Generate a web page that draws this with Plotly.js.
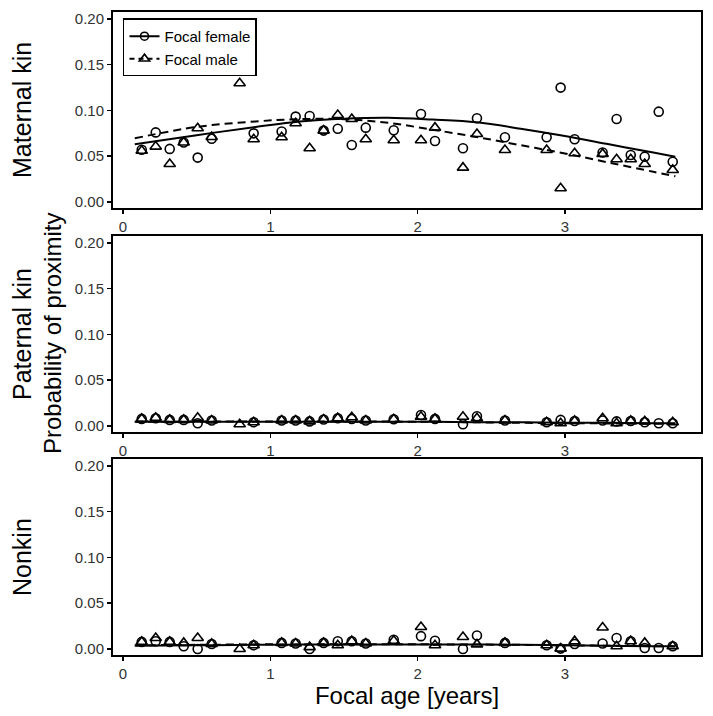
<!DOCTYPE html>
<html>
<head>
<meta charset="utf-8">
<script src="https://cdn.plot.ly/plotly-3.0.1.min.js"></script>
<style>html,body{margin:0;padding:0;background:#fff;}#chart{width:713px;height:716px;}</style>
</head>
<body>
<div id="chart"></div>
<script>
// Focal age (years) of each observation bin
const ages = [0.127, 0.222, 0.317, 0.412, 0.507, 0.602, 0.792, 0.887, 1.077, 1.172, 1.267, 1.362, 1.458, 1.553, 1.648, 1.838, 2.023, 2.118, 2.308, 2.403, 2.593, 2.876, 2.971, 3.066, 3.256, 3.351, 3.447, 3.542, 3.637, 3.732];

// Maternal kin
const matFemale = [0.057, 0.076, 0.058, 0.065, 0.0485, 0.069, null, 0.075, 0.077, 0.0933, 0.094, 0.078, 0.080, 0.0623, 0.0812, 0.0783, 0.0962, 0.0667, 0.0587, 0.0915, 0.0707, 0.0707, 0.125, 0.0685, 0.054, 0.0907, 0.0514, 0.0495, 0.0987, 0.044];
const matMale   = [0.056, 0.0605, 0.0415, 0.065, 0.0805, 0.071, 0.1297, 0.0685, 0.0707, 0.086, 0.0587, 0.078, 0.0951, 0.0907, 0.0685, 0.0674, 0.0674, 0.0812, 0.0375, 0.0743, 0.0568, 0.0568, 0.015, 0.0532, 0.0525, 0.0467, 0.0467, 0.0415, null, 0.035];

// Paternal kin
const patFemale = [0.0077, 0.0085, 0.0066, 0.0066, 0.003, 0.006, null, 0.004, 0.006, 0.006, 0.005, 0.007, 0.0085, 0.0077, 0.006, 0.0073, 0.012, 0.0077, 0.0018, 0.0106, 0.006, 0.004, 0.0066, 0.0055, 0.006, 0.005, 0.0055, 0.004, 0.003, 0.003];
const patMale   = [0.0077, 0.009, 0.0066, 0.0066, 0.009, 0.006, 0.0018, 0.004, 0.006, 0.006, 0.005, 0.007, 0.0085, 0.0095, 0.006, 0.0073, 0.010, 0.0077, 0.010, 0.0084, 0.006, 0.004, 0.003, 0.0055, 0.0084, 0.003, 0.0055, 0.005, null, 0.004];

// Nonkin
const nonFemale = [0.0077, 0.0085, 0.0077, 0.003, 0.000, 0.0055, null, 0.004, 0.0066, 0.006, 0.000, 0.0066, 0.0085, 0.0085, 0.006, 0.010, 0.014, 0.009, 0.000, 0.0147, 0.0066, 0.004, 0.0004, 0.0055, 0.006, 0.012, 0.0085, 0.001, 0.001, 0.003];
const nonMale   = [0.0077, 0.012, 0.0077, 0.0066, 0.012, 0.0055, 0.000, 0.004, 0.0066, 0.006, 0.002, 0.0066, 0.004, 0.0085, 0.006, 0.009, 0.024, 0.004, 0.013, 0.005, 0.0066, 0.004, 0.0004, 0.0085, 0.0234, 0.003, 0.0085, 0.0066, null, 0.003];

// Fitted curves
const fitAges = [0.08, 0.5, 0.9, 1.2, 1.5, 1.8, 2.1, 2.4, 2.7, 3.0, 3.3, 3.6, 3.75];
const matFemaleFit = [0.063, 0.073, 0.082, 0.088, 0.091, 0.092, 0.090, 0.087, 0.080, 0.072, 0.063, 0.054, 0.0495];
const matMaleFit   = [0.0696, 0.082, 0.088, 0.0905, 0.0905, 0.0865, 0.079, 0.071, 0.062, 0.053, 0.043, 0.033, 0.028];
const patFemaleFit = [0.0045, 0.0045, 0.0045, 0.0045, 0.0045, 0.0045, 0.0045, 0.004, 0.004, 0.0035, 0.0035, 0.003, 0.003];
const patMaleFit   = [0.0045, 0.0048, 0.005, 0.005, 0.005, 0.0048, 0.0045, 0.004, 0.0035, 0.003, 0.0028, 0.0025, 0.0025];
const nonFemaleFit = [0.0035, 0.004, 0.0045, 0.0048, 0.005, 0.005, 0.005, 0.0048, 0.0045, 0.004, 0.0035, 0.003, 0.003];
const nonMaleFit   = [0.004, 0.0045, 0.005, 0.005, 0.0052, 0.0052, 0.005, 0.0048, 0.0045, 0.004, 0.0035, 0.003, 0.0028];

const panelLabels = ["Maternal kin", "Paternal kin", "Nonkin"];
const seriesNames = ["Focal female", "Focal male"];
const yTicks = [0, 0.05, 0.10, 0.15, 0.20];
const xTicks = [0, 1, 2, 3];

const FONT = "Liberation Sans, Arial, Helvetica, sans-serif";
const circ = {symbol: "circle-open", size: 9, color: "#000", line: {width: 1.6, color: "#000"}};
const tri  = {symbol: "triangle-up-open", size: 10, color: "#000", line: {width: 1.6, color: "#000"}};
const solid = {color: "#000", width: 2, shape: "spline"};
const dashed = {color: "#000", width: 2, dash: "8px,5px", shape: "spline"};

const panels = [
  {f: matFemale, m: matMale, ff: matFemaleFit, mf: matMaleFit},
  {f: patFemale, m: patMale, ff: patFemaleFit, mf: patMaleFit},
  {f: nonFemale, m: nonMale, ff: nonFemaleFit, mf: nonMaleFit}
];

const traces = [];
panels.forEach((p, i) => {
  const xa = i === 0 ? "x" : "x" + (i + 1);
  const ya = i === 0 ? "y" : "y" + (i + 1);
  traces.push({x: fitAges, y: p.ff, xaxis: xa, yaxis: ya, mode: "lines", line: solid, showlegend: false, hoverinfo: "skip"});
  traces.push({x: fitAges, y: p.mf, xaxis: xa, yaxis: ya, mode: "lines", line: dashed, showlegend: false, hoverinfo: "skip"});
  traces.push({x: ages, y: p.f, xaxis: xa, yaxis: ya, mode: "markers", marker: circ, showlegend: false});
  traces.push({x: ages, y: p.m, xaxis: xa, yaxis: ya, mode: "markers", marker: tri, showlegend: false});
});
// legend entries
traces.push({x: [null], y: [null], mode: "lines+markers", name: seriesNames[0], line: {color: "#000", width: 2}, marker: {symbol: "circle-open", size: 8, color: "#000", line: {width: 1.6, color: "#000"}}});
traces.push({x: [null], y: [null], mode: "lines+markers", name: seriesNames[1], line: {color: "#000", width: 2, dash: "5px,4px"}, marker: {symbol: "triangle-up-open", size: 9, color: "#000", line: {width: 1.6, color: "#000"}}});

const H = 643;
const doms = [[(655 - 208) / H, 1], [(655 - 432) / H, (655 - 236) / H], [0, (655 - 459) / H]];

function yax(d, anchor) {
  return {domain: d, anchor: anchor, range: [-0.0066, 0.2076], tickvals: yTicks, ticktext: yTicks.map(v => v.toFixed(2)),
    showline: true, mirror: true, linewidth: 2, linecolor: "#000", ticks: "outside", ticklen: 4, tickwidth: 1.5, tickcolor: "#000",
    showgrid: false, zeroline: false, tickfont: {family: FONT, size: 15, color: "#333"}, fixedrange: true};
}
function xax(anchor) {
  return {domain: [0, 1], anchor: anchor, range: [-0.068, 3.924], tickvals: xTicks, ticktext: xTicks.map(String),
    showline: true, mirror: true, linewidth: 2, linecolor: "#000", ticks: "outside", ticklen: 4, tickwidth: 1.5, tickcolor: "#000",
    showgrid: false, zeroline: false, tickfont: {family: FONT, size: 15, color: "#333"}, fixedrange: true};
}

const layout = {
  width: 713, height: 716,
  margin: {l: 113, r: 12, t: 12, b: 61},
  paper_bgcolor: "#fff", plot_bgcolor: "#fff",
  font: {family: FONT, color: "#000"},
  xaxis: xax("y"), yaxis: yax(doms[0], "x"),
  xaxis2: xax("y2"), yaxis2: yax(doms[1], "x2"),
  xaxis3: Object.assign(xax("y3"), {title: {text: "Focal age [years]", font: {family: FONT, size: 24, color: "#000"}, standoff: 4}}),
  yaxis3: yax(doms[2], "x3"),
  showlegend: true,
  legend: {x: 0.017, y: 0.99, xanchor: "left", yanchor: "top", bgcolor: "#fff", bordercolor: "#000", borderwidth: 1.5,
    font: {family: FONT, size: 15, color: "#000"}, tracegroupgap: 0},
  annotations: [
    {text: panelLabels[0], xref: "paper", yref: "paper", x: -113 / 588 + 22 / 588, y: (doms[0][0] + doms[0][1]) / 2, textangle: -90, showarrow: false, xanchor: "center", yanchor: "middle", font: {family: FONT, size: 25, color: "#000"}},
    {text: panelLabels[1], xref: "paper", yref: "paper", x: -113 / 588 + 22 / 588, y: (doms[1][0] + doms[1][1]) / 2, textangle: -90, showarrow: false, xanchor: "center", yanchor: "middle", font: {family: FONT, size: 25, color: "#000"}},
    {text: panelLabels[2], xref: "paper", yref: "paper", x: -113 / 588 + 22 / 588, y: (doms[2][0] + doms[2][1]) / 2, textangle: -90, showarrow: false, xanchor: "center", yanchor: "middle", font: {family: FONT, size: 25, color: "#000"}},
    {text: "Probability of proximity", xref: "paper", yref: "paper", x: -113 / 588 + 52 / 588, y: (doms[1][0] + doms[1][1]) / 2, textangle: -90, showarrow: false, xanchor: "center", yanchor: "middle", font: {family: FONT, size: 24, color: "#000"}}
  ]
};

Plotly.newPlot("chart", traces, layout, {displayModeBar: false, staticPlot: true});
</script>
</body>
</html>
